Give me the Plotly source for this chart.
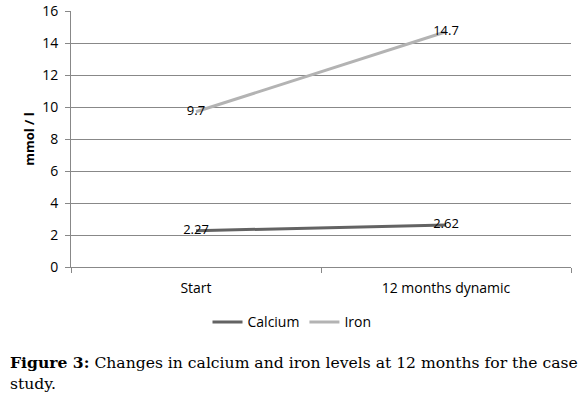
import plotly.graph_objects as go

categories = ["Start", "12 months dynamic"]
calcium = [2.27, 2.62]
iron = [9.7, 14.7]
y_ticks = [0, 2, 4, 6, 8, 10, 12, 14, 16]

FONT = "Open Sans, DejaVu Sans"
SERIF = "DejaVu Serif, Liberation Serif"

fig = go.Figure()
fig.add_trace(go.Scatter(x=categories, y=calcium, name="Calcium", mode="lines+text",
                         line=dict(color="#636363", width=3),
                         text=[str(v) for v in calcium], textposition="middle center",
                         textfont=dict(family=FONT, size=13, color="#000")))
fig.add_trace(go.Scatter(x=categories, y=iron, name="Iron", mode="lines+text",
                         line=dict(color="#b3b3b3", width=3),
                         text=[str(v) for v in iron], textposition="middle center",
                         textfont=dict(family=FONT, size=13, color="#000")))

fig.update_layout(
    width=585, height=395,
    margin=dict(l=71, r=14, t=11, b=128, autoexpand=False),
    plot_bgcolor="white", paper_bgcolor="white",
    font=dict(family=FONT, size=13, color="#000"),
    showlegend=True,
    legend=dict(orientation="h", x=0.442, xanchor="center", y=-0.154, yanchor="top",
                font=dict(size=14), tracegroupgap=0, bgcolor="rgba(0,0,0,0)"),
    xaxis=dict(type="category", showgrid=False, showline=True, linecolor="#888", linewidth=1,
               ticks="outside", tickson="boundaries", ticklen=5, tickcolor="#888",
               range=[-0.5, 1.5], tickfont=dict(size=14), ticklabelstandoff=8),
    yaxis=dict(range=[0, 16], tickvals=y_ticks, showgrid=True, gridcolor="#888", gridwidth=1,
               showline=True, linecolor="#888", ticks="outside", ticklen=5, tickcolor="#888",
               zeroline=False, tickfont=dict(size=14), ticklabelstandoff=4,
               title=dict(text="<b>mmol / l</b>", font=dict(size=13), standoff=4)),
)

fig.add_annotation(xref="paper", yref="paper", x=-0.126, y=-0.33, xanchor="left", yanchor="top",
                   showarrow=False, align="left",
                   text="<b>Figure 3:</b> Changes in calcium and iron levels at 12 months for the case",
                   font=dict(family=SERIF, size=15.6, color="#000"))
fig.add_annotation(xref="paper", yref="paper", x=-0.126, y=-0.415, xanchor="left", yanchor="top",
                   showarrow=False, align="left",
                   text="study.",
                   font=dict(family=SERIF, size=15.6, color="#000"))

fig.write_html("out.html", config={"displayModeBar": False},
               post_script="document.body.style.margin='0';")
